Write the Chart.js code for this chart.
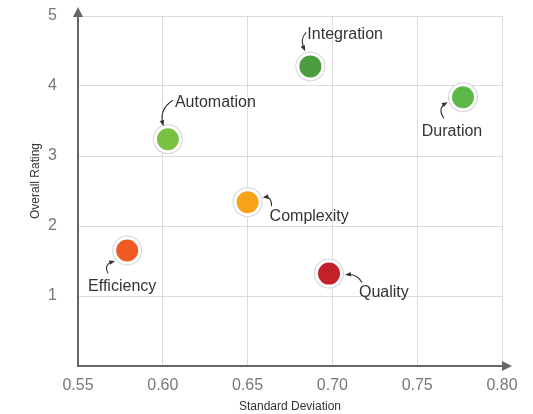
<!DOCTYPE html>
<html>
<head>
<meta charset="utf-8">
<script src="https://cdn.jsdelivr.net/npm/chart.js@4"></script>
<style>
  html, body { margin: 0; padding: 0; background: #fff; }
  #wrap { width: 533px; height: 414px; }
</style>
</head>
<body>
<div id="wrap"><canvas id="chart"></canvas></div>
<script>
const names = ['Automation', 'Efficiency', 'Integration', 'Duration', 'Complexity', 'Quality'];
const stdDev = [0.603, 0.579, 0.687, 0.777, 0.650, 0.698];
const rating = [3.24, 1.65, 4.28, 3.84, 2.34, 1.32];
const pointColors = ['#7ac143', '#f15a24', '#4a9c3c', '#5cb947', '#f9a31b', '#c4202a'];

const xTicks = [0.55, 0.60, 0.65, 0.70, 0.75, 0.80];
const yTicks = [1, 2, 3, 4, 5];

// where each label sits relative to its point, and the little curved arrow
const callouts = {
  Automation:  { dx: 7,   dy: -37, align: 'left',   arrow: [[5, -39], [-9, -30], [-5, -15]] },
  Efficiency:  { dx: -5,  dy: 36,  align: 'center', arrow: [[-19, 23], [-24, 14], [-14, 11]] },
  Integration: { dx: -3,  dy: -32, align: 'left',   arrow: [[-4, -34], [-11, -28], [-6, -17]] },
  Duration:    { dx: -11, dy: 34,  align: 'center', arrow: [[-19, 21], [-26, 11], [-17, 6]] },
  Complexity:  { dx: 22,  dy: 14,  align: 'left',   arrow: [[24, 4], [24, -6], [17, -5]] },
  Quality:     { dx: 30,  dy: 19,  align: 'left',   arrow: [[33, 9], [28, 0], [18, 1]] },
};

const makePoints = () => names.map((n, i) => ({ x: stdDev[i], y: rating[i] }));

const calloutPlugin = {
  id: 'callouts',
  afterDatasetsDraw(chart) {
    const ctx = chart.ctx;
    const meta = chart.getDatasetMeta(0);
    ctx.save();
    meta.data.forEach((el, i) => {
      const c = callouts[names[i]];
      const px = el.x, py = el.y;
      // arrow
      const [s, m, e] = c.arrow;
      ctx.strokeStyle = '#333';
      ctx.fillStyle = '#333';
      ctx.lineWidth = 1.1;
      ctx.beginPath();
      ctx.moveTo(px + s[0], py + s[1]);
      ctx.quadraticCurveTo(px + m[0], py + m[1], px + e[0], py + e[1]);
      ctx.stroke();
      const ang = Math.atan2(e[1] - m[1], e[0] - m[0]);
      const hx = px + e[0], hy = py + e[1];
      ctx.beginPath();
      ctx.moveTo(hx + Math.cos(ang) * 2, hy + Math.sin(ang) * 2);
      ctx.lineTo(hx + Math.cos(ang + 2.6) * 4.5, hy + Math.sin(ang + 2.6) * 4.5);
      ctx.lineTo(hx + Math.cos(ang - 2.6) * 4.5, hy + Math.sin(ang - 2.6) * 4.5);
      ctx.closePath();
      ctx.fill();
      // text
      ctx.font = '16px "Liberation Sans", Arial, sans-serif';
      ctx.textAlign = c.align;
      ctx.textBaseline = 'middle';
      ctx.fillText(names[i], px + c.dx, py + c.dy);
    });
    ctx.restore();
  },
  afterDraw(chart) {
    const { ctx, chartArea: a } = chart;
    ctx.save();
    ctx.fillStyle = '#666';
    ctx.beginPath();
    ctx.moveTo(a.left, a.top - 9);
    ctx.lineTo(a.left - 5, a.top + 1);
    ctx.lineTo(a.left + 5, a.top + 1);
    ctx.closePath();
    ctx.fill();
    ctx.beginPath();
    ctx.moveTo(a.right + 10, a.bottom);
    ctx.lineTo(a.right, a.bottom - 5);
    ctx.lineTo(a.right, a.bottom + 5);
    ctx.closePath();
    ctx.fill();
    ctx.restore();
  }
};

new Chart(document.getElementById('chart'), {
  type: 'scatter',
  data: {
    datasets: [
      {
        data: makePoints(),
        pointRadius: 12.5,
        pointHoverRadius: 12.5,
        backgroundColor: pointColors,
        borderColor: '#ffffff',
        borderWidth: 3,
      },
      {
        data: makePoints(),
        pointRadius: 15,
        pointHoverRadius: 15,
        backgroundColor: '#d4d4d4',
        borderWidth: 0,
      },
    ],
  },
  options: {
    responsive: true,
    maintainAspectRatio: false,
    animation: false,
    layout: { padding: { top: 16, right: 31, left: 0, bottom: 0 } },
    plugins: {
      legend: { display: false },
      tooltip: { enabled: false },
    },
    scales: {
      x: {
        type: 'linear',
        min: 0.55,
        max: 0.80,
        afterBuildTicks(scale) {
          scale.ticks = xTicks.map(v => ({ value: v }));
        },
        afterFit(scale) {
          scale.height = 48;
          scale.paddingLeft = 0;
          scale.paddingRight = 0;
        },
        ticks: {
          padding: 10,
          color: '#777',
          font: { size: 16, family: '"Liberation Sans", Arial, sans-serif' },
          callback: v => v.toFixed(2),
        },
        grid: { color: '#dcdcdc', drawTicks: false },
        border: { color: '#666', width: 2 },
        title: {
          display: true,
          text: 'Standard Deviation',
          color: '#333',
          padding: { top: 0, bottom: 0 },
          font: { size: 12, family: '"Liberation Sans", Arial, sans-serif' },
        },
      },
      y: {
        type: 'linear',
        min: 0,
        max: 5,
        afterBuildTicks(scale) {
          scale.ticks = [0].concat(yTicks).map(v => ({ value: v }));
        },
        afterFit(scale) {
          scale.width = 78;
          scale.paddingTop = 0;
          scale.paddingBottom = 0;
        },
        ticks: {
          padding: 21,
          color: '#777',
          font: { size: 16, family: '"Liberation Sans", Arial, sans-serif' },
          callback: v => (yTicks.includes(v) ? String(v) : ''),
        },
        grid: { color: '#dcdcdc', drawTicks: false },
        border: { color: '#666', width: 2 },
        title: {
          display: true,
          text: '      Overall Rating',
          color: '#333',
          padding: { top: 28, bottom: 0 },
          font: { size: 12, family: '"Liberation Sans", Arial, sans-serif' },
        },
      },
    },
  },
  plugins: [calloutPlugin],
});
</script>
</body>
</html>
